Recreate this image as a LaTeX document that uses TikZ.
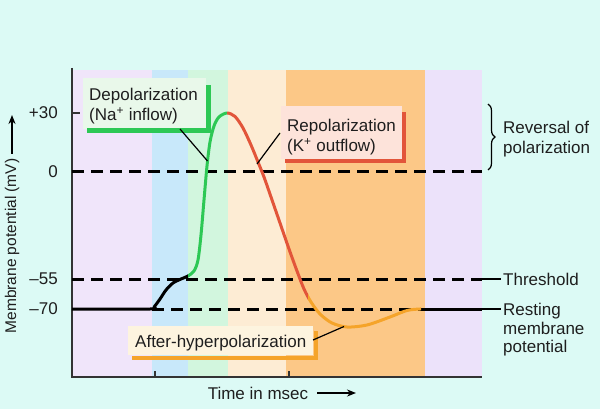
\documentclass[tikz,border=0pt]{standalone}
\usepackage{fontspec}
\setmainfont{Liberation Sans}
\usetikzlibrary{decorations.pathreplacing,arrows.meta}
\definecolor{bgc}{RGB}{220,250,245}
\definecolor{purA}{RGB}{240,229,250}
\definecolor{bluB}{RGB}{200,232,250}
\definecolor{grnB}{RGB}{210,246,222}
\definecolor{peach}{RGB}{253,236,212}
\definecolor{orng}{RGB}{252,200,135}
\definecolor{purB}{RGB}{236,226,250}
\definecolor{apgreen}{RGB}{45,200,85}
\definecolor{apred}{RGB}{226,85,58}
\definecolor{aporange}{RGB}{245,164,42}
\definecolor{depfill}{RGB}{233,248,234}
\definecolor{repfill}{RGB}{253,227,218}
\definecolor{aftfill}{RGB}{253,244,223}
\definecolor{txt}{RGB}{30,30,30}
\begin{document}
\begin{tikzpicture}[x=1pt,y=-1pt,
  lab/.style={font=\fontsize{17}{20}\selectfont, inner sep=0pt, text=txt},
  curve/.style={line width=3pt, line join=round},
  dashln/.style={line width=3pt, dash pattern=on 12pt off 7pt, black},
  thinln/.style={line width=1.2pt, black},
  leader/.style={line width=1.2pt, black},
  axisln/.style={line width=1.2pt, black!80},
  arr/.style={line width=1.6pt, -{Stealth[length=9pt,width=7pt]}}]
\useasboundingbox (0,0) rectangle (600,409);
\fill[bgc] (0,0) rectangle (600,409);
% bands
\fill[purA] (72,70) rectangle (152,377);
\fill[bluB] (152,70) rectangle (188,377);
\fill[grnB] (188,70) rectangle (228,377);
\fill[peach] (228,70) rectangle (286,377);
\fill[orng] (286,70) rectangle (425,377);
\fill[purB] (425,70) rectangle (482,377);
% axes
\draw[axisln] (72,68) -- (72,377) -- (482,377);
\draw[axisln] (72,113) -- (80,113);
\draw[axisln] (155,377) -- (155,371);
\draw[axisln] (289,377) -- (289,371);
% level lines
\draw[dashln] (72,172) -- (482,172);
\draw[dashln] (72,279) -- (482,279);
\draw[dashln] (152,309) -- (420,309);
\draw[line width=3pt] (418,309) -- (482,309);
% boxes
\fill[depfill] (83,78) rectangle (206,129);
\draw[line width=5pt, apgreen] (87,131) -- (208.5,131) -- (208.5,85);
\fill[repfill] (281,106) rectangle (402,159);
\draw[line width=4pt, apred] (285,161) -- (404,161) -- (404,112);
\fill[aftfill] (128,326) rectangle (313,355);
\draw[line width=4pt, aporange] (132,357.5) -- (315.5,357.5) -- (315.5,331);
% action potential curve
\foreach \xa/\xb/\col in {0/188/black, 188/227/apgreen, 227/308/apred, 308/421/aporange}{
  \begin{scope}
    \clip (\xa,0) rectangle (\xb,409);
    \draw[curve,\col] plot[smooth,tension=0.5] coordinates {
      (72,309) (150,309) (154,307) (160,299) (166,290) (173,283) (181,279)
      (188,276) (194,271) (198,260) (201,235) (204,200) (207,166) (210,142)
      (214,126) (219,117) (227,113) (235,116.5) (243,128) (251,145)
      (258,162) (264,177) (271,197) (280,223) (289,249) (297,271) (304,289)
      (311,302) (320,314) (332,323) (347,327) (367,325) (390,317) (407,310.5)
      (420,309) (430,309)};
  \end{scope}
}
% tick labels
\node[lab, anchor=east] (p30) at (58,113) {+30};
\node[lab, anchor=east] (z0) at (58,172) {0};
\node[lab, anchor=east] (m55) at (58,279) {\char"2013 55};
\node[lab, anchor=east] (m70) at (58,309) {\char"2013 70};
% axis titles
\node[lab, rotate=90, font=\fontsize{15.5}{18}\selectfont] (ylab) at (12,246) {Membrane potential (mV)};
\coordinate (ya0) at (12,154);
\coordinate (ya1) at (12,115);
\draw[arr] (ya0) -- (ya1);
\node[lab] (xlab) at (258,393) {Time in msec};
\coordinate (xa0) at (317,393);
\coordinate (xa1) at (356,393);
\draw[arr] (xa0) -- (xa1);
% phase labels
\node[lab, anchor=north west, align=left] (dep) at (89,88) {Depolarization\\(Na\textsuperscript{+} inflow)};
\node[lab, anchor=north west, align=left] (rep) at (287,119) {Repolarization\\(K\textsuperscript{+} outflow)};
\node[lab, anchor=base west] (aft) at (135,347) {After-hyperpolarization};
\coordinate (dep0) at (180,129);
\coordinate (dep1) at (207.5,161);
\draw[leader] (dep0) -- (dep1);
\coordinate (rep0) at (280,133);
\coordinate (rep1) at (257,164);
\draw[leader] (rep0) -- (rep1);
\coordinate (aft0) at (313,340);
\coordinate (aft1) at (344,326.5);
\draw[leader] (aft0) -- (aft1);
% right labels
\node[lab, anchor=north west, align=left] (rev) at (503,121) {Reversal of\\polarization};
\coordinate (br0) at (488,104);
\coordinate (br1) at (488,170);
\draw[thinln, decorate, decoration={brace, amplitude=7pt}] (br0) -- (br1);
\node[lab, anchor=west] (thr) at (503,279) {Threshold};
\node[lab, anchor=north west, align=left, font=\fontsize{17}{18.7}\selectfont] (rest) at (503,303) {Resting\\membrane\\potential};
\coordinate (t0) at (482,279);
\draw[thinln] (t0) -- ([xshift=-2pt]thr.west);
\coordinate (r0) at (482,309);
\draw[thinln] (r0) -- ([xshift=-2pt]r0 -| rest.west);
\end{tikzpicture}
\end{document}
